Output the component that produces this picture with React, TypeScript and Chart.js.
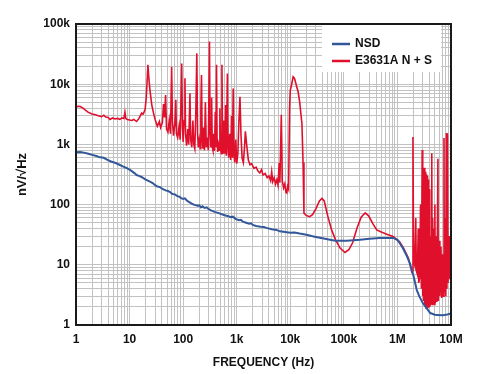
import React, { useEffect, useRef } from "react";
import { Chart, registerables } from "chart.js";

Chart.register(...registerables);

// ---- data (frequency in Hz, noise in nV/√Hz) ----
const seriesNames = ["NSD", "E3631A N + S"];
const seriesColors = ["#33589a", "#e0102d"];

const xTickLabels = ["1", "10", "100", "1k", "10k", "100k", "1M", "10M"];
const yTickLabels = ["1", "10", "100", "1k", "10k", "100k"];

const nsdSpectrum: [number, number][] = [
  [1, 740], [1.2, 745], [1.4, 730], [1.7, 700], [2, 670], [2.4, 640], [2.8, 610],
  [3.3, 600], [3.8, 560], [4.5, 520], [5.5, 490], [6.6, 455], [7.5, 430], [8.5, 410],
  [10, 380], [11, 360], [12.5, 330], [13.5, 310], [15, 300], [17, 285], [20, 260],
  [22, 250], [24, 240], [27, 228], [30, 210], [33, 200], [37, 195], [42, 180],
  [47, 172], [52, 168], [57, 162], [63, 150], [70, 148], [78, 138], [85, 135],
  [92, 128], [100, 124], [108, 127], [116, 118], [125, 112], [135, 108], [145, 104],
  [158, 100], [170, 98], [185, 96], [200, 97], [215, 90], [230, 94], [250, 88],
  [275, 90], [300, 84], [330, 80], [360, 78], [400, 75], [450, 73], [500, 70],
  [560, 68], [620, 66], [700, 64], [780, 62], [850, 63], [950, 58], [1100, 55],
  [1200, 56], [1300, 52], [1500, 50], [1700, 48], [1850, 49], [2000, 46],
  [2300, 44], [2800, 43], [3200, 42.5], [3600, 41], [4500, 39], [5500, 38],
  [6400, 36], [8000, 35], [10000, 34], [12000, 34.5], [15000, 33], [20000, 31.5],
  [25000, 30], [30000, 29], [40000, 27.5], [55000, 26], [70000, 25], [85000, 25],
  [113000, 25], [150000, 25.5], [200000, 26], [300000, 27], [470000, 28],
  [650000, 28], [830000, 28], [1000000, 26], [1100000, 23], [1260000, 19],
  [1500000, 14], [1700000, 10.7], [2000000, 6.5], [2300000, 3.8], [2600000, 2.9],
  [3000000, 2.3], [3500000, 1.9], [4100000, 1.58], [5000000, 1.48], [5500000, 1.47],
  [7000000, 1.45], [8500000, 1.5], [10000000, 1.55],
];

const nsSpectrum: [number, number][] = [
  [1, 4200], [1.1, 4300], [1.2, 4250], [1.35, 4000], [1.5, 3700], [1.7, 3400],
  [2, 3200], [2.3, 3100], [2.6, 3000], [3, 2900], [3.3, 3050], [3.6, 2850], [4, 2800],
  [4.3, 2600], [4.8, 2750], [5.3, 2650], [6, 2700], [6.6, 2600], [7.2, 2750],
  [7.8, 2700], [8.2, 3400], [8.5, 2700], [9, 2600], [10, 2550], [11, 2500],
  [12, 2600], [13.5, 2400], [15, 2700], [16.8, 3300], [18, 3200], [19.5, 3800],
  [20.5, 6000], [22, 21000], [23, 12000], [24, 8000], [26, 4500], [28, 3300],
  [30, 2600], [33, 2000], [36, 2400], [38, 1900], [41, 2300], [43, 4700], [45, 2800],
  [47, 6600], [49, 1800], [52, 1600], [55, 2500], [58, 1500], [61, 19500], [63, 2500],
  [66, 1400], [70, 2200], [73, 5500], [75, 1500], [79, 1300], [84, 2000], [88, 1200],
  [94, 22000], [97, 2000], [100, 1100], [104, 2500], [108, 12600], [111, 1500],
  [116, 950], [122, 1800], [127, 1000], [134, 7100], [138, 1200], [145, 900],
  [152, 2500], [158, 1000], [165, 850], [172, 3000], [180, 32500], [186, 1500],
  [192, 900], [200, 1200], [208, 850], [214, 3500], [220, 14200], [226, 1400],
  [234, 850], [242, 1900], [250, 800], [260, 5000], [270, 900], [282, 1300],
  [295, 800], [310, 51000], [318, 1500], [326, 900], [334, 1800], [340, 6000],
  [350, 900], [360, 800], [372, 1500], [385, 780], [398, 3500], [410, 900],
  [420, 21000], [430, 1200], [442, 750], [455, 1100], [470, 800], [485, 4000],
  [500, 900], [515, 700], [530, 21000], [545, 1000], [560, 700], [580, 2500],
  [600, 700], [620, 4500], [640, 650], [670, 15000], [690, 800], [710, 600],
  [740, 1500], [770, 550], [800, 3000], [830, 600], [860, 8500], [890, 650],
  [920, 500], [960, 1200], [1000, 480], [1050, 700], [1100, 2500], [1150, 6200],
  [1200, 1500], [1260, 600], [1330, 500], [1400, 900], [1450, 1650], [1550, 900],
  [1650, 550], [1770, 460], [1900, 480], [2100, 400], [2300, 420], [2500, 360],
  [2700, 335], [2900, 380], [3100, 310], [3400, 330], [3700, 280], [4000, 300],
  [4300, 250], [4500, 350], [4700, 240], [5000, 280], [5300, 220], [5600, 260],
  [5900, 210], [6200, 490], [6400, 230], [6800, 3100], [7100, 250], [7500, 190],
  [7900, 220], [8300, 160], [8600, 156], [8900, 200], [9300, 180], [9700, 4000],
  [10000, 8000], [10500, 9500], [11300, 13300], [12000, 12500], [13000, 9500],
  [14000, 7500], [15000, 5000], [16500, 2200], [17300, 500], [18000, 72],
  [20000, 66], [23000, 63], [26000, 68], [30000, 85], [35000, 115], [39000, 127],
  [43000, 115], [50000, 65], [59000, 38], [70000, 26], [85000, 19], [105000, 16],
  [125000, 18], [145000, 23], [175000, 40], [210000, 62], [250000, 73],
  [290000, 65], [350000, 48], [410000, 38], [500000, 35], [650000, 32],
  [830000, 29.5], [1100000, 24], [1300000, 19], [1600000, 13], [1850000, 7.7],
  [1900000, 8], [1950000, 1330], [2000000, 12], [2100000, 10], [2200000, 60],
  [2250000, 8], [2350000, 7], [2450000, 40], [2500000, 5], [2600000, 6],
  [2700000, 100], [2800000, 4], [2900000, 810], [2930000, 3.5], [2970000, 420],
  [3000000, 3], [3030000, 400], [3060000, 2.8], [3100000, 380], [3130000, 2.5],
  [3170000, 410], [3200000, 2.3], [3240000, 360], [3270000, 2.2], [3310000, 350],
  [3350000, 2], [3390000, 330], [3430000, 1.9], [3480000, 320], [3520000, 1.9],
  [3570000, 300], [3620000, 1.9], [3680000, 290], [3730000, 2], [3790000, 260],
  [3850000, 2], [3910000, 180], [3970000, 2], [4050000, 120], [4100000, 2.1],
  [4250000, 30], [4350000, 2.2], [4400000, 710], [4450000, 2.2], [4550000, 60],
  [4650000, 2.3], [4800000, 40], [4900000, 2.2], [5000000, 100], [5100000, 2.3],
  [5300000, 30], [5450000, 2.4], [5700000, 575], [5800000, 2.5], [6000000, 25],
  [6200000, 3], [6500000, 20], [6700000, 2.8], [7000000, 15], [7200000, 3],
  [7400000, 1280], [7500000, 3.5], [7800000, 60], [8000000, 3], [8200000, 1550],
  [8400000, 4], [8600000, 1500], [8800000, 5], [9200000, 30], [9500000, 6],
  [10000000, 5.6],
];

// ---- helpers ----
function decadeTicks(minExp: number, maxExp: number) {
  const t: { value: number }[] = [];
  for (let e = minExp; e <= maxExp; e++) {
    for (let m = 1; m <= 9; m++) {
      const v = m * Math.pow(10, e);
      if (e === maxExp && m > 1) break;
      t.push({ value: v });
    }
  }
  return t;
}

function decadeLabel(labels: string[]) {
  return (value: number | string) => {
    const v = Number(value);
    const e = Math.log10(v);
    const r = Math.round(e);
    if (Math.abs(e - r) < 1e-9 && labels[r] !== undefined) return labels[r];
    return "";
  };
}

const FONT = "'Liberation Sans', Arial, sans-serif";

const frame = {
  id: "frame",
  afterDatasetsDraw(chart: any) {
    const { ctx, chartArea: a } = chart;
    ctx.save();
    // legend box
    const bx = a.right - 129;
    const by = a.top + 1;
    ctx.fillStyle = "#ffffff";
    ctx.fillRect(bx, by, 119, 47);
    const rows = [a.top + 20, a.top + 37];
    ctx.font = "bold 12px " + FONT;
    ctx.textBaseline = "middle";
    rows.forEach((y, i) => {
      ctx.strokeStyle = seriesColors[i];
      ctx.lineWidth = 2.5;
      ctx.beginPath();
      ctx.moveTo(bx + 10, y);
      ctx.lineTo(bx + 28, y);
      ctx.stroke();
      ctx.fillStyle = "#111";
      ctx.fillText(seriesNames[i], bx + 33, y);
    });
    // border
    ctx.strokeStyle = "#1a1a1a";
    ctx.lineWidth = 2;
    ctx.strokeRect(a.left, a.top, a.right - a.left, a.bottom - a.top);
    ctx.restore();
  },
};

export default function App() {
  const ref = useRef<HTMLCanvasElement | null>(null);

  useEffect(() => {
    if (!ref.current) return;
    const chart = new Chart(ref.current, {
      type: "scatter",
      data: {
        datasets: [
          {
            label: seriesNames[0],
            data: nsdSpectrum.map(([x, y]) => ({ x, y })),
            borderColor: seriesColors[0],
            backgroundColor: seriesColors[0],
            borderWidth: 2,
            showLine: true,
            pointRadius: 0,
            tension: 0,
            order: 1,
          },
          {
            label: seriesNames[1],
            data: nsSpectrum.map(([x, y]) => ({ x, y })),
            borderColor: seriesColors[1],
            backgroundColor: seriesColors[1],
            borderWidth: 1.6,
            showLine: true,
            pointRadius: 0,
            tension: 0,
            order: 2,
          },
        ],
      },
      options: {
        responsive: false,
        animation: false,
        layout: { padding: { left: 0, top: 24, right: 31, bottom: 0 } },
        plugins: { legend: { display: false }, tooltip: { enabled: false } },
        scales: {
          x: {
            type: "logarithmic",
            position: "bottom",
            min: 1,
            max: 1e7,
            afterBuildTicks: (s: any) => { s.ticks = decadeTicks(0, 7); },
            afterFit: (s: any) => { s.height = 49; },
            grid: { color: "#c2c2c2", lineWidth: 1, drawTicks: false },
            border: { display: false },
            ticks: {
              autoSkip: false,
              maxRotation: 0,
              minRotation: 0,
              padding: 7,
              color: "#111",
              font: { family: FONT, size: 12, weight: "bold" },
              callback: decadeLabel(xTickLabels),
            },
            title: {
              display: true,
              text: "FREQUENCY (Hz)",
              color: "#111",
              font: { family: FONT, size: 12, weight: "bold" },
              padding: { top: 0, bottom: 4 },
            },
          },
          y: {
            type: "logarithmic",
            position: "left",
            min: 1,
            max: 1e5,
            afterBuildTicks: (s: any) => { s.ticks = decadeTicks(0, 5); },
            afterFit: (s: any) => { s.width = 76; },
            grid: { color: "#c2c2c2", lineWidth: 1, drawTicks: false },
            border: { display: false },
            ticks: {
              autoSkip: false,
              padding: 6,
              color: "#111",
              font: { family: FONT, size: 12, weight: "bold" },
              callback: decadeLabel(yTickLabels),
            },
            title: {
              display: true,
              text: "nV/√Hz",
              color: "#111",
              font: { family: FONT, size: 13, weight: "bold" },
              padding: { top: 15, bottom: 0 },
            },
          },
        },
      } as any,
      plugins: [frame],
    });
    return () => chart.destroy();
  }, []);

  return (
    <div style={{ position: "fixed", left: 0, top: 0, width: 482, height: 374, background: "#fff" }}>
      <canvas ref={ref} width={482} height={374} style={{ display: "block" }} />
    </div>
  );
}
